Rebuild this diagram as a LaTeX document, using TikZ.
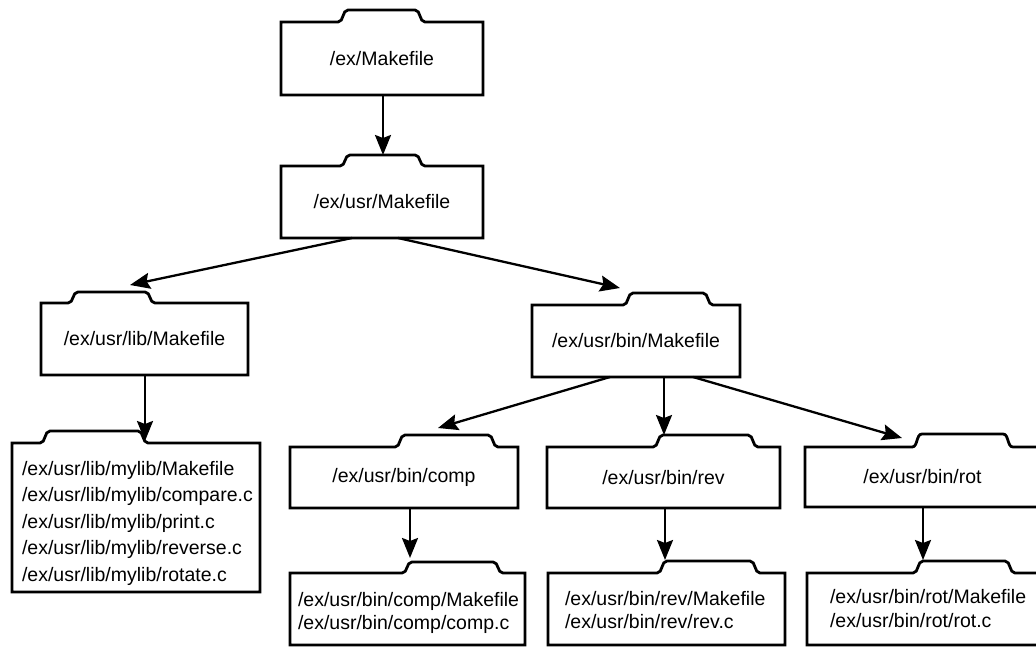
\documentclass[tikz,border=0pt]{standalone}
\usepackage{fontspec}
\setmainfont{Liberation Sans}
\usetikzlibrary{arrows.meta}
\tikzset{
  fbox/.style={draw=none, rectangle, inner sep=0pt, outer sep=0pt,
    font=\fontsize{19.5}{25}\selectfont, text=black},
  outline/.style={draw=black, line width=2.8pt},
  arr/.style={draw=black, line width=2.3pt, -{Stealth[length=20pt,width=16pt,inset=3pt]}},
}
% #1 node name, #2/#3 tab start/end offset from left edge, #4 tab height
\newcommand\drawfolder[4]{%
  \draw[outline] (#1.south west) -- (#1.north west) -- ([xshift=#2pt]#1.north west)
    .. controls +(6,0) and +(-6,0) .. ([xshift=#2pt+10pt,yshift=#4pt]#1.north west)
    -- ([xshift=#3pt-10pt,yshift=#4pt]#1.north west)
    .. controls +(6,0) and +(-6,0) .. ([xshift=#3pt]#1.north west)
    -- (#1.north east) -- (#1.south east) -- cycle;}
\begin{document}
\begin{tikzpicture}[x=1pt,y=-1pt]
\useasboundingbox (0,0) rectangle (1036,646);
\fill[white] (0,0) rectangle (1036,646);
\clip (0,0) rectangle (1036,646);

% boxes
\node[fbox, minimum width=202, minimum height=73] (b1) at (382,58.5) {/ex/Makefile};
\node[fbox, minimum width=202, minimum height=72] (b2) at (382,202) {/ex/usr/Makefile};
\node[fbox, minimum width=207, minimum height=72] (b3) at (144.5,339) {/ex/usr/lib/Makefile};
\node[fbox, minimum width=208, minimum height=72] (b4) at (636,341) {/ex/usr/bin/Makefile};
\node[fbox, inner xsep=10pt, text width=228pt, align=left, text height=32pt, text depth=117pt,
  font=\fontsize{19.5}{26.5}\selectfont] (b5) at (136,517.5)
  {/ex/usr/lib/mylib/Makefile\\/ex/usr/lib/mylib/compare.c\\/ex/usr/lib/mylib/print.c\\/ex/usr/lib/mylib/reverse.c\\/ex/usr/lib/mylib/rotate.c};
\node[fbox, minimum width=228, minimum height=61] (b6) at (404,477.5) {/ex/usr/bin/comp};
\node[fbox, inner xsep=8pt, text width=219pt, align=left, text height=33pt, text depth=39pt,
  font=\fontsize{19.5}{23.5}\selectfont] (b7) at (407.5,609)
  {/ex/usr/bin/comp/Makefile\\/ex/usr/bin/comp/comp.c};
\node[fbox, minimum width=233, minimum height=61] (b8) at (663.5,477.5) {/ex/usr/bin/rev};
\node[fbox, inner xsep=17pt, text width=203pt, align=left, text height=32pt, text depth=40pt,
  font=\fontsize{19.5}{23.5}\selectfont] (b9) at (666.5,609)
  {/ex/usr/bin/rev/Makefile\\/ex/usr/bin/rev/rev.c};
\node[fbox, minimum width=235, minimum height=60] (b10) at (922.5,477) {/ex/usr/bin/rot};
\node[fbox, inner xsep=23pt, text width=217pt, align=left, text height=30pt, text depth=42pt,
  font=\fontsize{19.5}{24}\selectfont] (b11) at (938.5,609)
  {/ex/usr/bin/rot/Makefile\\/ex/usr/bin/rot/rot.c};

% folder outlines
\drawfolder{b1}{57}{144}{12}
\drawfolder{b2}{59}{144}{11}
\drawfolder{b3}{27}{114}{11}
\drawfolder{b4}{91}{181}{12}
\drawfolder{b5}{28}{136}{12}
\drawfolder{b6}{105}{208}{12}
\drawfolder{b7}{112}{213}{11}
\drawfolder{b8}{106}{211}{12}
\drawfolder{b9}{109}{212}{12}
\drawfolder{b10}{107}{208}{13}
\drawfolder{b11}{106}{208}{12}

% arrow end points at the tabs
\coordinate (t2) at (383,155);
\coordinate (t3) at (130,285);
\coordinate (t4) at (620,288);
\coordinate (t5) at (145,441);
\coordinate (t6) at (438,428);
\coordinate (t8) at (664,435);
\coordinate (t10) at (902,438);
\coordinate (t7) at (410,558);
\coordinate (t9) at (665,560);
\coordinate (t11) at (923,560);

% connectors
\draw[arr] ([xshift=1pt]b1.south) -- (t2);
\draw[arr] ([xshift=-30pt]b2.south) -- (t3);
\draw[arr] ([xshift=16pt]b2.south) -- (t4);
\draw[arr] ([xshift=0.5pt]b3.south) -- (t5);
\draw[arr] ([xshift=-26pt]b4.south) -- (t6);
\draw[arr] ([xshift=28pt]b4.south) -- (t8);
\draw[arr] ([xshift=57pt]b4.south) -- (t10);
\draw[arr] ([xshift=6pt]b6.south) -- (t7);
\draw[arr] ([xshift=1.5pt]b8.south) -- (t9);
\draw[arr] ([xshift=0.5pt]b10.south) -- (t11);
\end{tikzpicture}
\end{document}
